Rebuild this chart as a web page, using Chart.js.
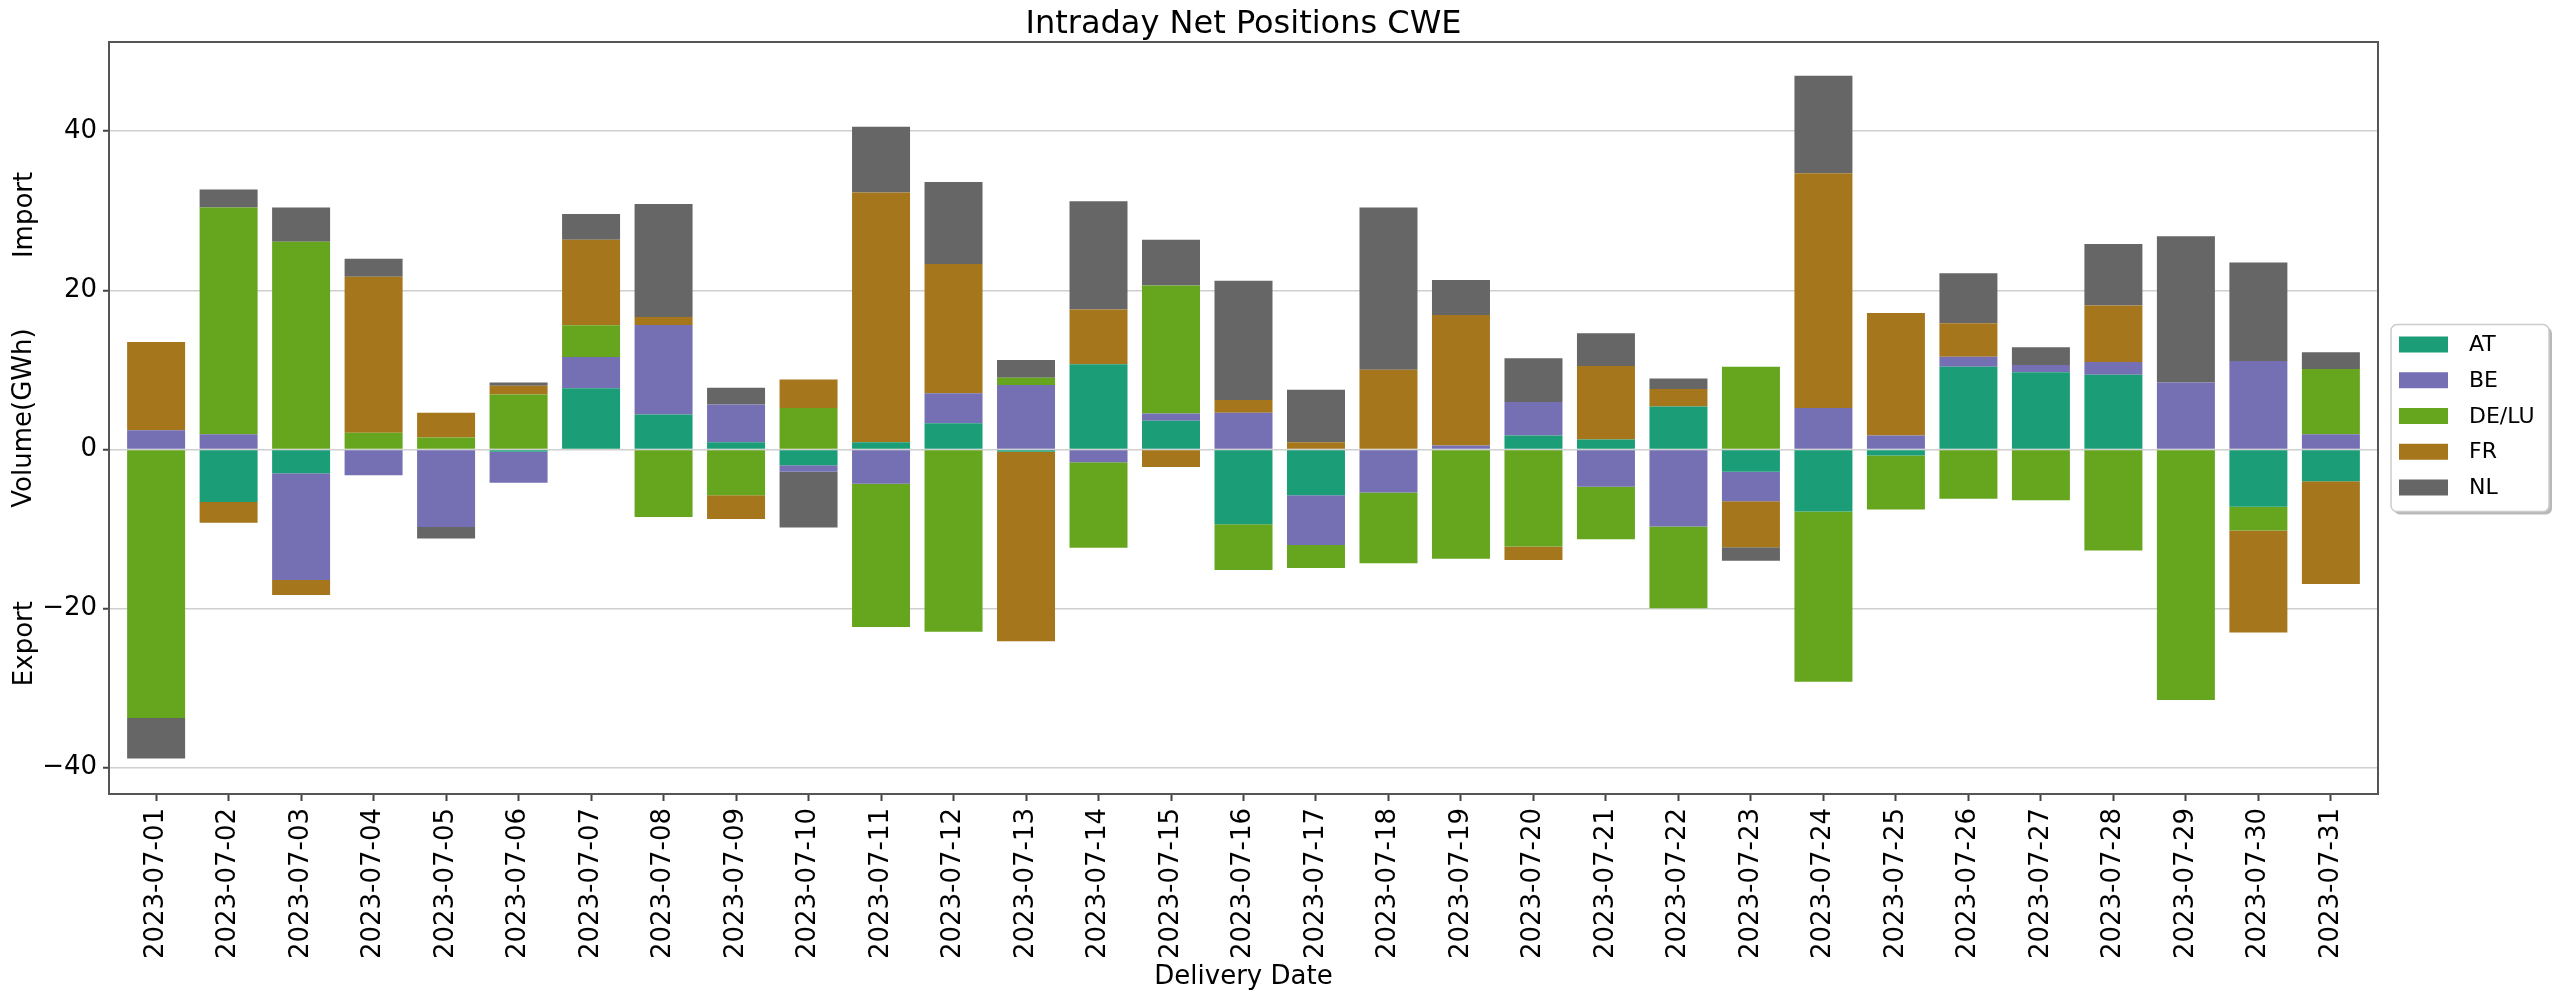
<!DOCTYPE html>
<html>
<head>
<meta charset="utf-8">
<title>Intraday Net Positions CWE</title>
<script src="https://cdn.jsdelivr.net/npm/chart.js@4.4.0/dist/chart.umd.min.js"></script>
<style>
  html, body { margin: 0; padding: 0; background: #ffffff; }
  #wrap { width: 2552px; height: 1001px; position: relative; }
</style>
</head>
<body>
<div id="wrap"><canvas id="chart"></canvas></div>
<script>
// delivery dates (x tick labels)
const dates = [
    "2023-07-01", "2023-07-02", "2023-07-03", "2023-07-04", "2023-07-05",
    "2023-07-06", "2023-07-07", "2023-07-08", "2023-07-09", "2023-07-10",
    "2023-07-11", "2023-07-12", "2023-07-13", "2023-07-14", "2023-07-15",
    "2023-07-16", "2023-07-17", "2023-07-18", "2023-07-19", "2023-07-20",
    "2023-07-21", "2023-07-22", "2023-07-23", "2023-07-24", "2023-07-25",
    "2023-07-26", "2023-07-27", "2023-07-28", "2023-07-29", "2023-07-30",
    "2023-07-31",
];

// net positions per zone, GWh (positive = import, negative = export)
const AT = [0, -6.6, -3.0, 0, 0, -0.3, 7.7, 4.4, 0.9, -2.0, 0.9, 3.3, -0.3, 10.7, 3.6,
    -9.4, -5.75, 0, 0, 1.75, 1.25, 5.4, -2.8, -7.8, -0.75, 10.4, 9.7, 9.4, 0, -7.2, -4.0];
const BE = [2.4, 1.9, -13.4, -3.25, -9.75, -3.9, 3.9, 11.25, 4.75, -0.8, -4.3, 3.75, 8.1, -1.6, 0.9,
    4.6, -6.25, -5.4, 0.5, 4.2, -4.7, -9.7, -3.7, 5.2, 1.75, 1.25, 0.9, 1.6, 8.4, 11.1, 1.9];
const DELU = [-33.75, 28.5, 26.1, 2.1, 1.5, 6.9, 4.0, -8.5, -5.75, 5.2, -18.0, -22.9, 0.9, -10.75, 16.1,
    -5.75, -2.9, -8.9, -13.75, -12.2, -6.6, -10.25, 10.4, -21.4, -6.8, -6.2, -6.4, -12.7, -31.5, -3.0, 8.2];
const FR = [11.1, -2.6, -1.9, 19.6, 3.1, 1.1, 10.75, 1.0, -3.0, 3.6, 31.4, 16.25, -23.8, 6.9, -2.2,
    1.6, 0.9, 10.0, 16.4, -1.7, 9.25, 2.2, -5.8, 29.5, 15.4, 4.2, 0, 7.1, 0, -12.8, -12.9];
const NL = [-5.1, 2.25, 4.3, 2.25, -1.45, 0.4, 3.25, 14.2, 2.1, -7.0, 8.25, 10.3, 2.25, 13.6, 5.75,
    15.0, 6.6, 20.4, 4.4, 5.5, 4.1, 1.3, -1.7, 12.25, 0, 6.3, 2.25, 7.7, 18.4, 12.4, 2.1];

const zones = ["AT", "BE", "DE/LU", "FR", "NL"];
const series = [AT, BE, DELU, FR, NL];
const yTicks = [-40, -20, 0, 20, 40];

// Dark2 sampled at 5 points
const colors = ["#1b9e77", "#7570b3", "#66a61e", "#a6761d", "#666666"];

Chart.defaults.font.family = "'DejaVu Sans', sans-serif";
Chart.defaults.color = "#000000";

const datasets = zones.map((zone, k) => ({
    label: zone,
    data: series[k].map((v, i) => ({ x: i, y: v })),
    backgroundColor: colors[k],
    borderWidth: 0,
    barPercentage: 1.0,
    categoryPercentage: 0.8,
}));

// title centred over the axes (not the whole canvas), like matplotlib
const titlePlugin = {
    id: "titlePlugin",
    afterDraw: (chart) => {
        const { ctx, chartArea } = chart;
        ctx.save();
        ctx.font = "32px 'DejaVu Sans'";
        ctx.fillStyle = "#000000";
        ctx.textAlign = "center";
        ctx.textBaseline = "alphabetic";
        ctx.fillText("Intraday Net Positions CWE", (chartArea.left + chartArea.right) / 2, 33);
        ctx.restore();
    },
};

// axes frame, like matplotlib spines
const framePlugin = {
    id: "framePlugin",
    afterDraw: (chart) => {
        const { ctx, chartArea } = chart;
        ctx.save();
        ctx.strokeStyle = "#555555";
        ctx.lineWidth = 2;
        ctx.strokeRect(chartArea.left, chartArea.top,
            chartArea.right - chartArea.left, chartArea.bottom - chartArea.top);
        ctx.restore();
    },
};

// "Import" / "Export" side labels next to the y axis title
const sideLabelPlugin = {
    id: "sideLabelPlugin",
    afterDraw: (chart) => {
        const { ctx, chartArea } = chart;
        const h = chartArea.bottom - chartArea.top;
        ctx.save();
        ctx.font = "26px 'DejaVu Sans'";
        ctx.fillStyle = "#000000";
        ctx.textAlign = "center";
        ctx.textBaseline = "middle";
        [["Import", 0.23], ["Export", 0.8]].forEach(([text, f]) => {
            ctx.save();
            ctx.translate(25, chartArea.top + h * f);
            ctx.rotate(-Math.PI / 2);
            ctx.fillText(text, 0, 0);
            ctx.restore();
        });
        ctx.restore();
    },
};

// boxed legend outside the axes on the right
const legendBoxPlugin = {
    id: "legendBoxPlugin",
    afterDraw: (chart) => {
        const { ctx, chartArea } = chart;
        const items = chart.data.datasets;
        const rowH = 35.75;
        const boxW = 158;
        const boxH = 187;
        const x = chartArea.right + 13;
        const y = (chartArea.top + chartArea.bottom) / 2 - boxH / 2;

        ctx.save();
        // shadow
        ctx.fillStyle = "rgba(0, 0, 0, 0.28)";
        ctx.beginPath();
        ctx.roundRect(x + 3, y + 3, boxW, boxH, 6);
        ctx.fill();
        // box
        ctx.fillStyle = "#ffffff";
        ctx.strokeStyle = "#cccccc";
        ctx.lineWidth = 1.5;
        ctx.beginPath();
        ctx.roundRect(x, y, boxW, boxH, 6);
        ctx.fill();
        ctx.stroke();

        ctx.font = "22px 'DejaVu Sans'";
        ctx.textAlign = "left";
        ctx.textBaseline = "middle";
        items.forEach((ds, i) => {
            const cy = y + 20 + i * rowH;
            ctx.fillStyle = ds.backgroundColor;
            ctx.fillRect(x + 8, cy - 8, 49, 16);
            ctx.fillStyle = "#000000";
            ctx.fillText(ds.label, x + 78, cy + 1);
        });
        ctx.restore();
    },
};

new Chart(document.getElementById("chart"), {
    type: "bar",
    data: { datasets },
    options: {
        responsive: true,
        maintainAspectRatio: false,
        devicePixelRatio: 1,
        animation: false,
        events: [],
        layout: {
            padding: { left: 0, right: 174, top: 42, bottom: 0 },
        },
        plugins: {
            legend: { display: false },
            tooltip: { enabled: false },
            title: { display: false },
        },
        scales: {
            x: {
                type: "linear",
                stacked: true,
                offset: false,
                min: -0.65,
                max: 30.65,
                afterBuildTicks: (axis) => {
                    axis.ticks = dates.map((d, i) => ({ value: i }));
                },
                afterFit: (axis) => {
                    axis.height = 207;
                },
                ticks: {
                    autoSkip: false,
                    minRotation: 90,
                    maxRotation: 90,
                    padding: 7,
                    font: { size: 26 },
                    color: "#000000",
                    callback: (value) => dates[value],
                },
                grid: {
                    offset: false,
                    drawOnChartArea: false,
                    drawTicks: true,
                    tickLength: 7,
                    tickColor: "#444444",
                    tickWidth: 2,
                },
                border: { display: false },
                title: {
                    display: true,
                    text: "Delivery Date",
                    font: { size: 26 },
                    color: "#000000",
                    padding: { top: 0, bottom: 8 },
                },
            },
            y: {
                stacked: true,
                min: -43.3,
                max: 51.2,
                afterBuildTicks: (axis) => {
                    axis.ticks = yTicks.map((v) => ({ value: v }));
                },
                afterFit: (axis) => {
                    axis.width = 109;
                },
                ticks: {
                    padding: 6,
                    font: { size: 26 },
                    color: "#000000",
                    callback: (value) => (value < 0 ? "\u2212" + Math.abs(value) : String(value)),
                },
                grid: {
                    color: "#cfcfcf",
                    lineWidth: 1.5,
                    drawTicks: true,
                    tickLength: 6,
                    tickColor: "#444444",
                    tickWidth: 2,
                },
                border: { display: false },
                title: {
                    display: true,
                    text: "Volume(GWh)",
                    font: { size: 26 },
                    color: "#000000",
                    padding: { top: 9, bottom: 0 },
                },
            },
        },
    },
    plugins: [titlePlugin, framePlugin, sideLabelPlugin, legendBoxPlugin],
});
</script>
</body>
</html>
